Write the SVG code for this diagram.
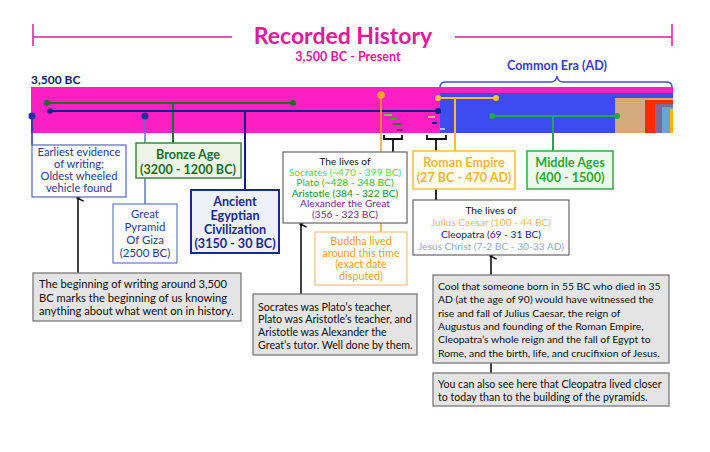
<svg xmlns="http://www.w3.org/2000/svg" width="710" height="452" viewBox="0 0 710 452">
<defs>
<style>
text{font-family:Lato,"Liberation Sans",sans-serif;}
.c{text-anchor:middle;}
.b{font-weight:bold;}
.t11{font-size:10.2px;}
.t12{font-size:11.2px;}
.t13{font-size:12.6px;}
.call{fill:#e4e4e4;stroke:#7a7a7a;stroke-width:1.3;}
.ln{fill:none;stroke-width:2;}
</style>
<marker id="ah" viewBox="0 0 10 10" refX="5" refY="2" markerWidth="8" markerHeight="8" orient="auto-start-reverse" markerUnits="userSpaceOnUse">
<path d="M1,9 L5,1 L9,9" fill="none" stroke="#000" stroke-width="1.8"/>
</marker>
</defs>
<rect width="710" height="452" fill="#ffffff"/>

<g id="title">
<line x1="33" y1="37" x2="232" y2="37" stroke="#e8179e" stroke-width="1.5"/>
<line x1="455" y1="37" x2="672" y2="37" stroke="#e8179e" stroke-width="1.5"/>
<line x1="33" y1="24" x2="33" y2="46" stroke="#e8179e" stroke-width="1.5"/>
<line x1="672" y1="24" x2="672" y2="46" stroke="#e8179e" stroke-width="1.5"/>
<text x="343" y="44" class="c b" font-size="23" fill="#e8179e">Recorded History</text>
<text x="348" y="61" class="c b t13" fill="#e8179e">3,500 BC - Present</text>
</g>

<g id="common-era">
<text x="557" y="70" class="c b t13" fill="#3a3acc">Common Era (AD)</text>
<path d="M440,87 Q440,82 446,82 L551,82 Q556,82 557,76 Q558,82 563,82 L666,82 Q672,82 672,87" fill="none" stroke="#4a4acc" stroke-width="1.5"/>
</g>

<g id="timeline-bar">
<text x="31" y="84" class="b" font-size="12" fill="#1a1a5e">3,500 BC</text>
<rect x="31" y="87" width="642" height="46" fill="#fb1fc4"/>
<rect x="440" y="93" width="233" height="40" fill="#3d4cf0"/>
<rect x="615" y="98" width="58" height="35" fill="#d4aa7d"/>
<rect x="645" y="100" width="28" height="33" fill="#ff2a00"/>
<rect x="655" y="104" width="18" height="29" fill="#7a6a9a"/>
<rect x="662" y="107" width="11" height="26" fill="#6ea0e0"/>
<rect x="670" y="109" width="3" height="24" fill="#f5b800"/>
<line x1="384" y1="115" x2="392" y2="115" stroke="#66cc44" stroke-width="2"/>
<line x1="390" y1="119" x2="397" y2="119" stroke="#44aa33" stroke-width="2"/>
<line x1="393" y1="124" x2="402" y2="124" stroke="#2a7a2a" stroke-width="2"/>
<line x1="397" y1="130" x2="403" y2="130" stroke="#7a1a7a" stroke-width="2"/>
<line x1="428" y1="117" x2="435" y2="117" stroke="#f8b070" stroke-width="2"/>
<line x1="432" y1="123" x2="437" y2="123" stroke="#1a1a80" stroke-width="2"/>
<line x1="440" y1="129" x2="445" y2="129" stroke="#a8c0f0" stroke-width="2"/>
</g>

<g id="connectors">
<line x1="47" y1="103" x2="293" y2="103" stroke="#1f6e2a" class="ln"/>
<circle cx="47" cy="103" r="3" fill="#1f6e2a"/>
<circle cx="293" cy="103" r="3" fill="#1f6e2a"/>
<line x1="173" y1="103" x2="173" y2="143" stroke="#1f6e2a" class="ln"/>
<line x1="50" y1="111" x2="438" y2="111" stroke="#1a1a8c" class="ln"/>
<circle cx="50" cy="111" r="2.8" fill="#1a1a8c"/>
<circle cx="438" cy="111" r="3" fill="#1a1a8c"/>
<line x1="245" y1="111" x2="245" y2="190" stroke="#1a1a8c" class="ln"/>
<line x1="32" y1="116" x2="32" y2="145" stroke="#1f2f9f" stroke-width="1.5"/>
<circle cx="32" cy="116" r="3.5" fill="#1f2f9f"/>
<line x1="145" y1="116" x2="145" y2="204" stroke="#5577cc" stroke-width="1.5"/>
<circle cx="145" cy="116" r="3.5" fill="#1f2f9f"/>
<line x1="381" y1="95" x2="381" y2="232" stroke="#f5a623" stroke-width="1.5"/>
<circle cx="381" cy="95" r="3.8" fill="#f5a623"/>
<line x1="438" y1="98" x2="496" y2="98" stroke="#f5c035" class="ln"/>
<circle cx="438" cy="98" r="3" fill="#f5c035"/>
<circle cx="496" cy="98" r="3" fill="#f5c035"/>
<line x1="455" y1="98" x2="455" y2="151" stroke="#f5c035" class="ln"/>
<line x1="492" y1="116" x2="617" y2="116" stroke="#22aa44" class="ln"/>
<circle cx="492" cy="116" r="3" fill="#22aa44"/>
<circle cx="617" cy="116" r="3" fill="#22aa44"/>
<line x1="553" y1="116" x2="553" y2="151" stroke="#22aa44" class="ln"/>
<path d="M384,135 L384,139 L402,139 L402,135 M393,139 L393,152" fill="none" stroke="#111" stroke-width="1.8"/>
<path d="M427,135 L427,139 L446,139 L446,135 M436,139 L436,151 M436,189 L436,200" fill="none" stroke="#111" stroke-width="1.8"/>
<line x1="78" y1="273" x2="78" y2="198" stroke="#000" stroke-width="1.5" marker-end="url(#ah)"/>
<line x1="301" y1="294" x2="301" y2="224" stroke="#000" stroke-width="1.5" marker-end="url(#ah)"/>
<line x1="491" y1="275" x2="491" y2="256" stroke="#000" stroke-width="1.5" marker-end="url(#ah)"/>
<line x1="491" y1="363" x2="491" y2="373" stroke="#000" stroke-width="1.5"/>
</g>

<g id="earliest-writing">
<rect x="32" y="145" width="94" height="52" fill="#fff" stroke="#5566bb" stroke-width="1.2"/>
<g class="c t12" fill="#2b3a8f">
<text x="79" y="156">Earliest evidence</text>
<text x="79" y="168">of writing;</text>
<text x="79" y="180">Oldest wheeled</text>
<text x="79" y="192">vehicle found</text>
</g>
</g>

<g id="bronze-age">
<rect x="136" y="143" width="105" height="35" fill="#eef5e6" stroke="#3a8a3a" stroke-width="1.5"/>
<text x="188" y="159" class="c b t13" fill="#1e6b1e">Bronze Age</text>
<text x="188" y="174" class="c b t13" fill="#1e6b1e">(3200 - 1200 BC)</text>
</g>

<g id="great-pyramid">
<rect x="113" y="204" width="64" height="59" fill="#fff" stroke="#6677cc" stroke-width="1.2"/>
<g class="c" font-size="11.4" fill="#2b3a8f">
<text x="145" y="218">Great</text>
<text x="145" y="231">Pyramid</text>
<text x="145" y="244">Of Giza</text>
<text x="145" y="257">(2500 BC)</text>
</g>
</g>

<g id="ancient-egypt">
<rect x="191" y="190" width="88" height="63" fill="#eef0f8" stroke="#1a2a8a" stroke-width="2"/>
<g class="c b t13" fill="#1a2a8a">
<text x="235" y="206">Ancient</text>
<text x="235" y="220">Egyptian</text>
<text x="235" y="234">Civilization</text>
<text x="235" y="248">(3150 - 30 BC)</text>
</g>
</g>

<g id="greeks">
<rect x="283" y="152" width="124" height="71" fill="#fff" stroke="#666" stroke-width="1.2"/>
<g class="c t11">
<text x="345" y="165" fill="#111">The lives of</text>
<text x="345" y="175.6" fill="#55dd55">Socrates (~470 - 399 BC)</text>
<text x="345" y="186.2" fill="#33bb33">Plato (~428 - 348 BC)</text>
<text x="345" y="196.8" fill="#2a8a2a">Aristotle (384 - 322 BC)</text>
<text x="345" y="207.4" fill="#7a2a8a">Alexander the Great</text>
<text x="345" y="218" fill="#7a2a8a">(356 - 323 BC)</text>
</g>
</g>

<g id="buddha">
<rect x="315" y="232" width="92" height="53" fill="#fff" stroke="#f5c07a" stroke-width="1.2"/>
<g class="c" font-size="10.8" fill="#f0a030">
<text x="361" y="245">Buddha lived</text>
<text x="361" y="256.5">around this time</text>
<text x="361" y="268">(exact date</text>
<text x="361" y="279.5">disputed)</text>
</g>
</g>

<g id="roman-empire">
<rect x="413" y="151" width="102" height="38" fill="#fffdf2" stroke="#f5c040" stroke-width="1.5"/>
<text x="464" y="167" class="c b t13" fill="#f5b830">Roman Empire</text>
<text x="464" y="182" class="c b t13" fill="#f5b830">(27 BC - 470 AD)</text>
</g>

<g id="middle-ages">
<rect x="527" y="151" width="86" height="38" fill="#eef8ee" stroke="#33aa44" stroke-width="1.5"/>
<text x="570" y="167" class="c b t13" fill="#22aa33">Middle Ages</text>
<text x="570" y="182" class="c b t13" fill="#22aa33">(400 - 1500)</text>
</g>

<g id="romans">
<rect x="413" y="200" width="156" height="55" fill="#fff" stroke="#666" stroke-width="1.2"/>
<g class="c t11">
<text x="491" y="214" fill="#111">The lives of</text>
<text x="491" y="225.5" fill="#f8c050">Julius Caesar (100 - 44 BC)</text>
<text x="491" y="237.5" fill="#1a1a80">Cleopatra (69 - 31 BC)</text>
<text x="491" y="250" fill="#90aadd">Jesus Christ (7-2 BC - 30-33 AD)</text>
</g>
</g>

<g id="note-writing">
<rect x="33" y="273" width="208" height="48" class="call"/>
<g class="t12" fill="#111">
<text x="39" y="288">The beginning of writing around 3,500</text>
<text x="39" y="302">BC marks the beginning of us knowing</text>
<text x="39" y="315">anything about what went on in history.</text>
</g>
</g>

<g id="note-greeks">
<rect x="253" y="294" width="164" height="61" class="call"/>
<g font-size="10.7" fill="#111">
<text x="258" y="311">Socrates was Plato’s teacher,</text>
<text x="258" y="323">Plato was Aristotle’s teacher, and</text>
<text x="258" y="336">Aristotle was Alexander the</text>
<text x="258" y="349">Great’s tutor. Well done by them.</text>
</g>
</g>

<g id="note-lifetime">
<rect x="433" y="275" width="236" height="88" class="call"/>
<g font-size="10.4" fill="#111">
<text x="438" y="290">Cool that someone born in 55 BC who died in 35</text>
<text x="438" y="303">AD (at the age of 90) would have witnessed the</text>
<text x="438" y="317">rise and fall of Julius Caesar, the reign of</text>
<text x="438" y="330">Augustus and founding of the Roman Empire,</text>
<text x="438" y="343">Cleopatra’s whole reign and the fall of Egypt to</text>
<text x="438" y="357">Rome, and the birth, life, and crucifixion of Jesus.</text>
</g>
</g>

<g id="note-cleopatra">
<rect x="433" y="373" width="236" height="33" class="call"/>
<g font-size="10.6" fill="#111">
<text x="438" y="388">You can also see here that Cleopatra lived closer</text>
<text x="438" y="401">to today than to the building of the pyramids.</text>
</g>
</g>
</svg>
